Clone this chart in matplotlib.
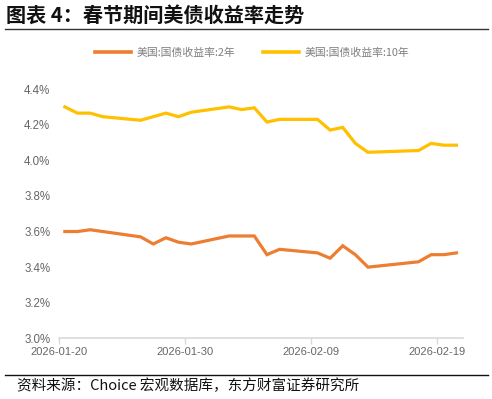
import matplotlib
matplotlib.use("Agg")
import matplotlib.pyplot as plt
import matplotlib.dates as mdates
import pandas as pd
from matplotlib.ticker import FuncFormatter
from matplotlib.lines import Line2D

# 数据（交易日）
dates = ["2026-01-20", "2026-01-21", "2026-01-22", "2026-01-23", "2026-01-26",
         "2026-01-27", "2026-01-28", "2026-01-29", "2026-01-30", "2026-02-02",
         "2026-02-03", "2026-02-04", "2026-02-05", "2026-02-06", "2026-02-09",
         "2026-02-10", "2026-02-11", "2026-02-12", "2026-02-13", "2026-02-17",
         "2026-02-18", "2026-02-19", "2026-02-20"]
y2 = [3.60, 3.60, 3.61, 3.60, 3.57, 3.53, 3.565, 3.54, 3.53, 3.575,
      3.575, 3.575, 3.47, 3.50, 3.48, 3.45, 3.52, 3.47, 3.40, 3.43,
      3.47, 3.47, 3.48]
y10 = [4.30, 4.265, 4.265, 4.245, 4.225, 4.245, 4.265, 4.245, 4.27, 4.30,
       4.285, 4.295, 4.215, 4.23, 4.23, 4.17, 4.185, 4.095, 4.045, 4.055,
       4.095, 4.085, 4.085]
names = ["美国:国债收益率:2年", "美国:国债收益率:10年"]
colors = ["#ED7D31", "#FFC000"]
xticks = ["2026-01-20", "2026-01-30", "2026-02-09", "2026-02-19"]
yticks = [3.0, 3.2, 3.4, 3.6, 3.8, 4.0, 4.2, 4.4]

cjk = ["Noto Sans CJK SC", "DejaVu Sans"]
plt.rcParams["font.family"] = ["Liberation Sans", "DejaVu Sans"]

fig = plt.figure(figsize=(4.92, 3.99), dpi=100)
ax = fig.add_axes([0.119, 0.152, 0.8215, 0.6247])

# 每个日期点画在当天的中间位置
x = pd.to_datetime(dates) + pd.Timedelta(hours=12)
ax.plot(x, y2, color=colors[0], lw=2.3, solid_joinstyle="miter")
ax.plot(x, y10, color=colors[1], lw=2.3, solid_joinstyle="miter")

ax.set_xlim(pd.Timestamp("2026-01-20"), pd.Timestamp("2026-02-21"))
ax.set_ylim(3.0, 4.4)
ax.set_xticks(pd.to_datetime(xticks))
ax.xaxis.set_major_formatter(mdates.DateFormatter("%Y-%m-%d"))
ax.set_yticks(yticks)
ax.yaxis.set_major_formatter(FuncFormatter(lambda v, p: f"{v:.1f}%"))

for s in ["top", "right", "left"]:
    ax.spines[s].set_visible(False)
ax.spines["bottom"].set_color("#D9D9D9")
ax.spines["bottom"].set_linewidth(1.2)
ax.tick_params(axis="y", length=0, pad=6, labelsize=8.3, labelcolor="#666666")
ax.tick_params(axis="x", length=4, width=1, color="#D9D9D9", pad=2,
               labelsize=8.0, labelcolor="#666666")

# 图例
handles = [Line2D([], [], color=c, lw=2.6) for c in colors]
leg = fig.legend(handles, names, loc="center", bbox_to_anchor=(0.512, 0.867),
                 ncol=2, frameon=False, handlelength=3.3, columnspacing=2.6,
                 handletextpad=0.5, prop={"family": cjk, "size": 7.8})
for t in leg.get_texts():
    t.set_color("#7F7F7F")

# 标题与来源
fig.text(0.012, 0.961, "图表 4：春节期间美债收益率走势", family=cjk, fontsize=14.5,
         fontweight="bold", va="center", ha="left", color="#111111")
fig.add_artist(Line2D([0.01, 0.992], [0.927, 0.927], color="#333333", lw=1.0))
fig.add_artist(Line2D([0.01, 0.992], [0.06, 0.06], color="#111111", lw=1.0))
fig.text(0.035, 0.032, "资料来源：Choice 宏观数据库，东方财富证券研究所", family=cjk,
         fontsize=10.5, va="center", ha="left", color="#111111")

fig.savefig("out.png", dpi=100)
